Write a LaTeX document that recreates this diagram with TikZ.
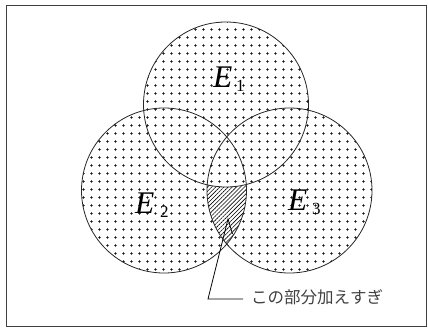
\documentclass[tikz,border=0pt]{standalone}
\usepackage{fontspec}
\setmainfont{Liberation Serif}
\newfontfamily\jpfont{Noto Sans CJK JP}
\usetikzlibrary{patterns,patterns.meta}
\pgfdeclarepatternformonly{plusgrid}{\pgfpoint{0pt}{0pt}}{\pgfpoint{8pt}{8pt}}{\pgfpoint{8pt}{8pt}}{%
  \pgfsetlinewidth{0.7pt}%
  \pgfpathmoveto{\pgfpoint{2.5pt}{4pt}}\pgfpathlineto{\pgfpoint{5.5pt}{4pt}}%
  \pgfpathmoveto{\pgfpoint{4pt}{2.5pt}}\pgfpathlineto{\pgfpoint{4pt}{5.5pt}}%
  \pgfusepath{stroke}}
\tikzset{
  setline/.style={draw=black!85, line width=0.8pt},
  setfill/.style={pattern=plusgrid, pattern color=black},
  hatchfill/.style={pattern={Lines[angle=45,distance=2.9pt,line width=0.6pt]}, pattern color=black},
  bigE/.style={anchor=base west, inner sep=0pt, font=\fontsize{31.5}{31.5}\selectfont\itshape},
  sub/.style={anchor=base west, inner sep=0pt, font=\fontsize{17}{17}\selectfont},
  pointer/.style={draw=black, line width=0.8pt},
}
\begin{document}
\begin{tikzpicture}[x=1pt,y=-1pt]
\useasboundingbox (0,0) rectangle (428,329);
\fill[white] (0,0) rectangle (428,329);
\draw[draw=black!75, line width=1pt] (6,5.5) rectangle (426.5,326);
\coordinate (c1) at (226,104.5);
\coordinate (c2) at (164,190.5);
\coordinate (c3) at (289.5,190.5);
\def\R{82.5}
\fill[setfill, nonzero rule] (c1) circle[radius=\R] (c2) circle[radius=\R] (c3) circle[radius=\R];
\begin{scope}
  \clip (c2) circle[radius=\R];
  \clip (c3) circle[radius=\R];
  \fill[white, even odd rule] (0,0) rectangle (428,329) (c1) circle[radius=\R];
  \fill[hatchfill, even odd rule] (0,0) rectangle (428,329) (c1) circle[radius=\R];
\end{scope}
\draw[setline] (c1) circle[radius=\R];
\draw[setline] (c2) circle[radius=\R];
\draw[setline] (c3) circle[radius=\R];
% labels
\node[bigE] (e1) at (213,87) {E};
\node[sub] (s1) at (236,91) {1};
\node[bigE] (e2) at (135,213) {E};
\node[sub] (s2) at (160,217) {2};
\node[bigE] (e3) at (288,210) {E};
\node[sub] (s3) at (312,214) {3};
% pointer
\node[anchor=west, inner sep=0pt, text=black!75, font=\jpfont\fontsize{16.5}{16.5}\selectfont] (lbl) at (251,297) {この部分加えすぎ};
\coordinate (corner) at (208,299);
\coordinate (lineend) at (243,299);
\coordinate (tip) at (228,219);
\coordinate (barb) at (232.5,234);
\draw[pointer] (lineend) -- (corner) -- (tip) -- (barb);
\end{tikzpicture}
\end{document}
